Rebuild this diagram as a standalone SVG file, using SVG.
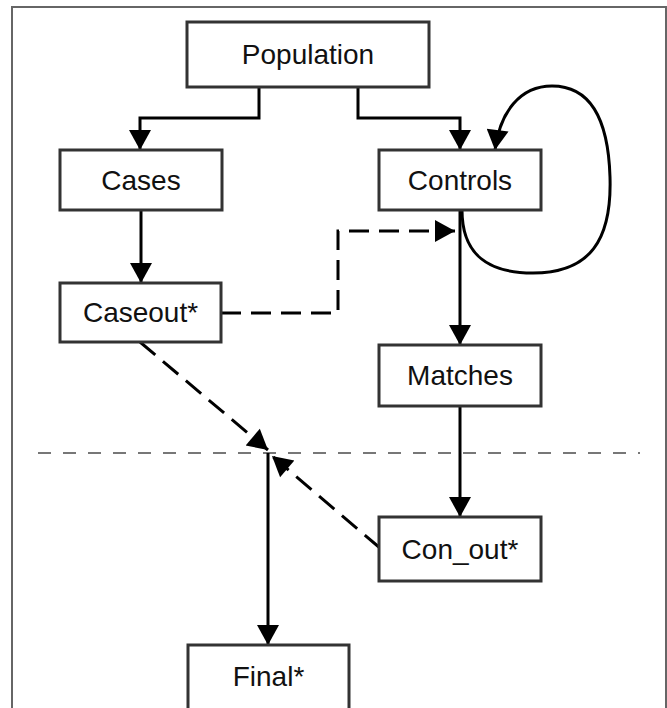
<svg xmlns="http://www.w3.org/2000/svg" width="667" height="708" viewBox="0 0 667 708">
<style>
.box{fill:#fff;stroke:#333;stroke-width:3}
.lbl{font-family:"Liberation Sans",Arial,sans-serif;font-size:28px;fill:#111;text-anchor:middle}
.con{fill:none;stroke:#000;stroke-width:3}
.dash{stroke-dasharray:20 10}
</style>
<defs>
<marker id="ah" markerUnits="userSpaceOnUse" markerWidth="22" markerHeight="22" viewBox="0 0 20 22" refX="20" refY="11" orient="auto">
<path d="M0,0 L20,11 L0,22 Z" fill="#000"/>
</marker>
</defs>
<rect x="0" y="0" width="667" height="708" fill="#fff"/>
<rect x="12" y="7" width="654" height="720" fill="none" stroke="#666" stroke-width="2"/>
<line x1="38" y1="453" x2="640" y2="453" stroke="#777" stroke-width="2" stroke-dasharray="13 12"/>
<g id="connectors">
<path class="con" d="M259,87 V118 H140 V150" marker-end="url(#ah)"/>
<path class="con" d="M358,87 V118 H460 V150" marker-end="url(#ah)"/>
<path class="con" d="M141,210 V283" marker-end="url(#ah)"/>
<path class="con" d="M462,210 C462,255 488,273 533,273 C590,273 612,240 610,177 C608,110 585,86 552,86 C520,86 500,112 495,150" marker-end="url(#ah)"/>
<path class="con dash" d="M221,313 H338 V231 H455" marker-end="url(#ah)"/>
<path class="con" d="M460,210 V345" marker-end="url(#ah)"/>
<path class="con" d="M460,406 V517" marker-end="url(#ah)"/>
<path class="con dash" d="M140,342 L268,450" marker-end="url(#ah)"/>
<path class="con dash" d="M380,548 L272,456" marker-end="url(#ah)"/>
<path class="con" d="M268,453 V645" marker-end="url(#ah)"/>
</g>
<g id="population"><rect class="box" x="187" y="22" width="242" height="65"/><text class="lbl" x="308" y="64">Population</text></g>
<g id="cases"><rect class="box" x="60" y="150" width="162" height="60"/><text class="lbl" x="141" y="190">Cases</text></g>
<g id="controls"><rect class="box" x="379" y="150" width="162" height="60"/><text class="lbl" x="460" y="190">Controls</text></g>
<g id="caseout"><rect class="box" x="60" y="283" width="161" height="59"/><text class="lbl" x="140.5" y="322">Caseout*</text></g>
<g id="matches"><rect class="box" x="379" y="345" width="162" height="61"/><text class="lbl" x="460" y="385">Matches</text></g>
<g id="con_out"><rect class="box" x="379" y="517" width="162" height="64"/><text class="lbl" x="460" y="559">Con_out*</text></g>
<g id="final"><rect class="box" x="188" y="645" width="161" height="80"/><text class="lbl" x="268.5" y="686">Final*</text></g>
</svg>
